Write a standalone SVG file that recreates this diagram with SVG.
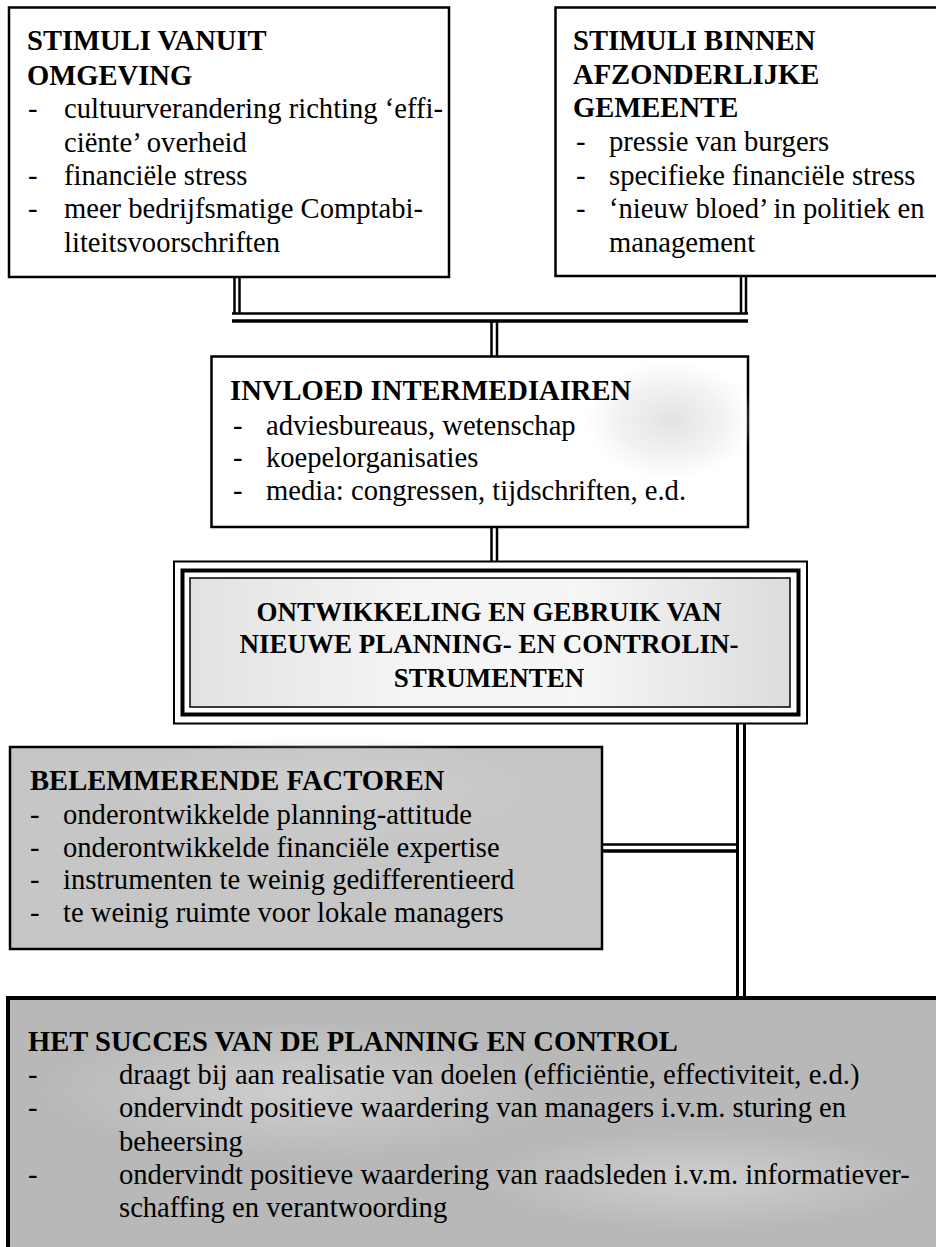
<svg xmlns="http://www.w3.org/2000/svg" width="936" height="1247" viewBox="0 0 936 1247">
<style>
.t{font-family:"Liberation Serif","Times New Roman",serif;font-size:28.6px;fill:#000}
.b{font-weight:bold}
.c{text-anchor:middle}
.box{stroke:#000;stroke-width:2.5;fill:#fff}
.ln{stroke:#000;fill:none}
</style>
<defs>
<radialGradient id="g3" cx="0.5" cy="0.5" r="0.5">
<stop offset="0" stop-color="#e2e2e2"/>
<stop offset="0.6" stop-color="#ececec" stop-opacity="0.7"/>
<stop offset="1" stop-color="#f0f0f0" stop-opacity="0"/>
</radialGradient>
<linearGradient id="g4" x1="0" y1="0" x2="1" y2="0">
<stop offset="0" stop-color="#e2e2e2"/>
<stop offset="0.35" stop-color="#f4f4f4"/>
<stop offset="0.65" stop-color="#f6f6f6"/>
<stop offset="1" stop-color="#dcdcdc"/>
</linearGradient>
<radialGradient id="g6" cx="0.5" cy="0.5" r="0.5">
<stop offset="0" stop-color="#cfcfcf"/>
<stop offset="1" stop-color="#cfcfcf" stop-opacity="0"/>
</radialGradient>
</defs>
<rect width="936" height="1247" fill="#fff"/>

<g id="connectors">
<line class="ln" x1="234.5" y1="277" x2="234.5" y2="314" stroke-width="2.5"/>
<line class="ln" x1="239.5" y1="277" x2="239.5" y2="314" stroke-width="2.5"/>
<line class="ln" x1="741" y1="276" x2="741" y2="314" stroke-width="2.5"/>
<line class="ln" x1="746" y1="276" x2="746" y2="314" stroke-width="2.5"/>
<line class="ln" x1="232" y1="313.5" x2="748" y2="313.5" stroke-width="2.5"/>
<line class="ln" x1="232" y1="321" x2="748" y2="321" stroke-width="3.5"/>
<line class="ln" x1="491.5" y1="321" x2="491.5" y2="357" stroke-width="2.5"/>
<line class="ln" x1="497" y1="321" x2="497" y2="357" stroke-width="2.5"/>
<line class="ln" x1="491.5" y1="527" x2="491.5" y2="562" stroke-width="2.5"/>
<line class="ln" x1="497" y1="527" x2="497" y2="562" stroke-width="2.5"/>
<line class="ln" x1="737.5" y1="724" x2="737.5" y2="998" stroke-width="3"/>
<line class="ln" x1="744.5" y1="724" x2="744.5" y2="998" stroke-width="3"/>
<line class="ln" x1="602" y1="844.5" x2="738" y2="844.5" stroke-width="2.5"/>
<line class="ln" x1="602" y1="851" x2="738" y2="851" stroke-width="3.5"/>
</g>

<g id="stimuli-omgeving">
<rect class="box" x="9" y="7.5" width="440" height="269.5"/>
<text class="t b" x="27" y="50">STIMULI VANUIT</text>
<text class="t b" x="27" y="85">OMGEVING</text>
<text class="t" x="28" y="118">-</text>
<text class="t" x="64" y="118">cultuurverandering richting ‘effi-</text>
<text class="t" x="64" y="152">ciënte’ overheid</text>
<text class="t" x="28" y="185">-</text>
<text class="t" x="64" y="185">financiële stress</text>
<text class="t" x="28" y="218">-</text>
<text class="t" x="64" y="218">meer bedrijfsmatige Comptabi-</text>
<text class="t" x="64" y="252">liteitsvoorschriften</text>
</g>

<g id="stimuli-gemeente">
<rect class="box" x="555.5" y="7.5" width="390" height="268.5"/>
<text class="t b" x="573" y="50">STIMULI BINNEN</text>
<text class="t b" x="573" y="84">AFZONDERLIJKE</text>
<text class="t b" x="573" y="117">GEMEENTE</text>
<text class="t" x="576" y="151">-</text>
<text class="t" x="609" y="151">pressie van burgers</text>
<text class="t" x="576" y="185">-</text>
<text class="t" x="609" y="185">specifieke financiële stress</text>
<text class="t" x="576" y="218">-</text>
<text class="t" x="609" y="218">‘nieuw bloed’ in politiek en</text>
<text class="t" x="609" y="252">management</text>
</g>

<g id="invloed-intermediairen">
<rect class="box" x="211.5" y="356.5" width="536.5" height="170.5"/>
<ellipse cx="670" cy="420" rx="85" ry="60" fill="url(#g3)"/>
<text class="t b" x="230" y="400">INVLOED INTERMEDIAIREN</text>
<text class="t" x="233" y="435">-</text>
<text class="t" x="266" y="435">adviesbureaus, wetenschap</text>
<text class="t" x="233" y="467">-</text>
<text class="t" x="266" y="467">koepelorganisaties</text>
<text class="t" x="233" y="500">-</text>
<text class="t" x="266" y="500">media: congressen, tijdschriften, e.d.</text>
</g>

<g id="ontwikkeling">
<rect x="174" y="561.5" width="633" height="162" fill="#fff" stroke="#000" stroke-width="2"/>
<rect x="182.5" y="570.5" width="616" height="144" fill="#fff" stroke="#000" stroke-width="4"/>
<rect x="190" y="578" width="600" height="129" fill="url(#g4)" stroke="#000" stroke-width="1.5"/>
<text class="t b c" x="489" y="621" style="font-size:27px">ONTWIKKELING EN GEBRUIK VAN</text>
<text class="t b c" x="489" y="653" style="font-size:27px">NIEUWE PLANNING- EN CONTROLIN-</text>
<text class="t b c" x="489" y="687" style="font-size:27px">STRUMENTEN</text>
</g>

<g id="belemmerende-factoren">
<rect x="10" y="747" width="592" height="202" fill="#c6c6c6" stroke="#000" stroke-width="2.5"/>
<ellipse cx="330" cy="790" rx="220" ry="55" fill="url(#g6)"/>
<text class="t b" x="30" y="790">BELEMMERENDE FACTOREN</text>
<text class="t" x="30" y="824">-</text>
<text class="t" x="63" y="824">onderontwikkelde planning-attitude</text>
<text class="t" x="30" y="856.5">-</text>
<text class="t" x="63" y="856.5">onderontwikkelde financiële expertise</text>
<text class="t" x="30" y="889">-</text>
<text class="t" x="63" y="889">instrumenten te weinig gedifferentieerd</text>
<text class="t" x="30" y="921.5">-</text>
<text class="t" x="63" y="921.5">te weinig ruimte voor lokale managers</text>
</g>

<g id="succes">
<rect x="8" y="998" width="940" height="260" fill="#b8b8b8" stroke="#000" stroke-width="4"/>
<ellipse cx="300" cy="1090" rx="260" ry="70" fill="url(#g6)"/>
<ellipse cx="700" cy="1180" rx="220" ry="50" fill="url(#g6)"/>
<text class="t b" x="28" y="1051">HET SUCCES VAN DE PLANNING EN CONTROL</text>
<text class="t" x="28" y="1084">-</text>
<text class="t" x="119" y="1084">draagt bij aan realisatie van doelen (efficiëntie, effectiviteit, e.d.)</text>
<text class="t" x="28" y="1117">-</text>
<text class="t" x="119" y="1117">ondervindt positieve waardering van managers i.v.m. sturing en</text>
<text class="t" x="119" y="1151">beheersing</text>
<text class="t" x="28" y="1184">-</text>
<text class="t" x="119" y="1184">ondervindt positieve waardering van raadsleden i.v.m. informatiever-</text>
<text class="t" x="119" y="1217">schaffing en verantwoording</text>
</g>
</svg>
